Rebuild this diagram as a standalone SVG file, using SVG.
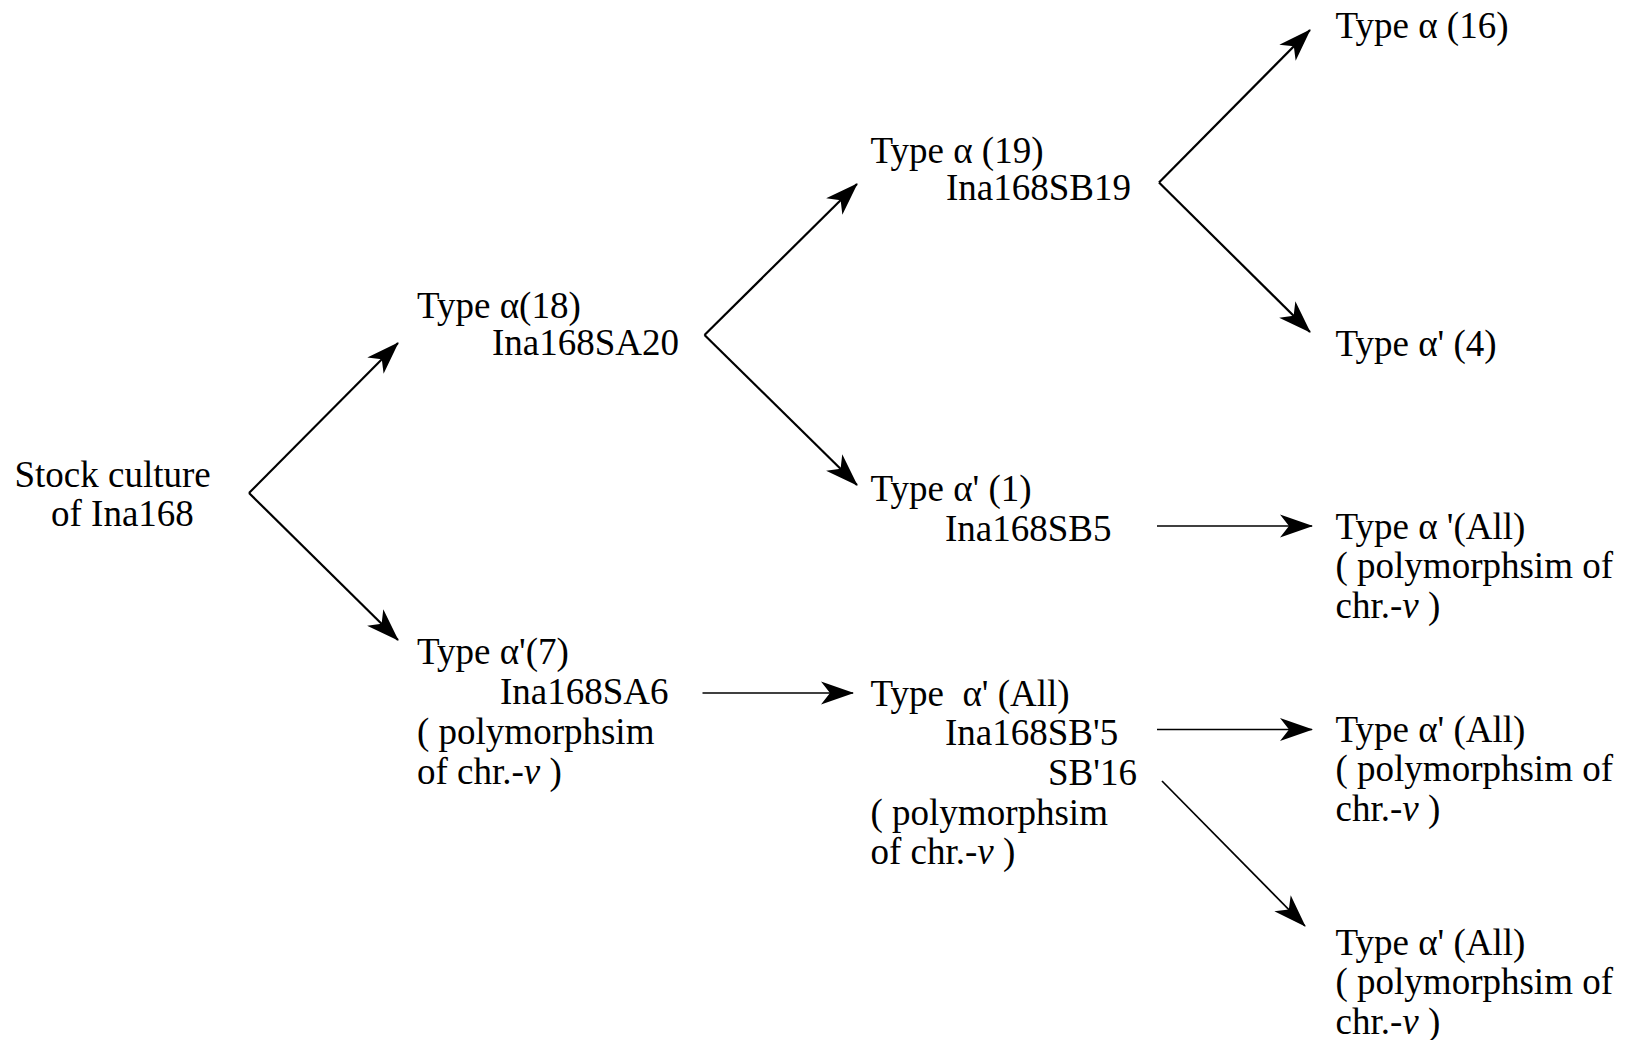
<svg xmlns="http://www.w3.org/2000/svg" width="1627" height="1040" viewBox="0 0 1627 1040">
<style>
text{font-family:"Liberation Serif","Times New Roman",serif;font-size:37px;fill:#000;white-space:pre}
.c{stroke:#000;stroke-width:2.2;fill:none}
.h{stroke-width:1.7}
</style>
<defs>
<marker id="ah" markerUnits="userSpaceOnUse" viewBox="-36 -14 38 28" markerWidth="38" markerHeight="28" refX="0" refY="0" orient="auto">
<path d="M1,0 L-32,-11.5 L-23,0 L-32,11.5 Z" fill="#000"/>
</marker>
</defs>
<rect width="1627" height="1040" fill="#fff"/>
<g id="connectors">
<line class="c" x1="249" y1="493" x2="398" y2="343" marker-end="url(#ah)"/>
<line class="c" x1="249" y1="493" x2="398" y2="640" marker-end="url(#ah)"/>
<line class="c" x1="704.5" y1="335" x2="857" y2="184" marker-end="url(#ah)"/>
<line class="c" x1="704.5" y1="335" x2="857" y2="485" marker-end="url(#ah)"/>
<line class="c" x1="1159" y1="182.5" x2="1310" y2="30" marker-end="url(#ah)"/>
<line class="c" x1="1159" y1="182.5" x2="1310" y2="332" marker-end="url(#ah)"/>
<line class="c h" x1="1157" y1="526" x2="1312" y2="526" marker-end="url(#ah)"/>
<line class="c h" x1="702.5" y1="693" x2="853" y2="693" marker-end="url(#ah)"/>
<line class="c h" x1="1157" y1="729.5" x2="1312" y2="729.5" marker-end="url(#ah)"/>
<line class="c h" x1="1162" y1="781" x2="1305" y2="926" marker-end="url(#ah)"/>
</g>
<g id="stock">
<text x="14.5" y="486.5">Stock culture</text>
<text x="51" y="526">of Ina168</text>
</g>
<g id="sa20">
<text x="417" y="317.5">Type α(18)</text>
<text x="492" y="355">Ina168SA20</text>
</g>
<g id="sa6">
<text x="417" y="664">Type α'(7)</text>
<text x="500" y="703.5">Ina168SA6</text>
<text x="417" y="744">( polymorphsim</text>
<text x="417" y="783.5">of chr.-<tspan font-style="italic">v</tspan> )</text>
</g>
<g id="sb19">
<text x="870.5" y="163">Type α (19)</text>
<text x="946" y="200">Ina168SB19</text>
</g>
<g id="sb5">
<text x="870.5" y="501">Type α' (1)</text>
<text x="945" y="540.5">Ina168SB5</text>
</g>
<g id="sb5p">
<text x="870.5" y="705.5">Type  α' (All)</text>
<text x="945" y="745">Ina168SB'5</text>
<text x="1048" y="784.5">SB'16</text>
<text x="870.5" y="825">( polymorphsim</text>
<text x="870.5" y="864">of chr.-<tspan font-style="italic">v</tspan> )</text>
</g>
<g id="t16">
<text x="1335.5" y="37.5">Type α (16)</text>
</g>
<g id="t4">
<text x="1335.5" y="356">Type α' (4)</text>
</g>
<g id="tall1">
<text x="1335.5" y="538.5">Type α '(All)</text>
<text x="1335.5" y="578">( polymorphsim of</text>
<text x="1335.5" y="617.5">chr.-<tspan font-style="italic">v</tspan> )</text>
</g>
<g id="tall2">
<text x="1335.5" y="742">Type α' (All)</text>
<text x="1335.5" y="781">( polymorphsim of</text>
<text x="1335.5" y="820.5">chr.-<tspan font-style="italic">v</tspan> )</text>
</g>
<g id="tall3">
<text x="1335.5" y="954.5">Type α' (All)</text>
<text x="1335.5" y="994">( polymorphsim of</text>
<text x="1335.5" y="1033.5">chr.-<tspan font-style="italic">v</tspan> )</text>
</g>
</svg>
